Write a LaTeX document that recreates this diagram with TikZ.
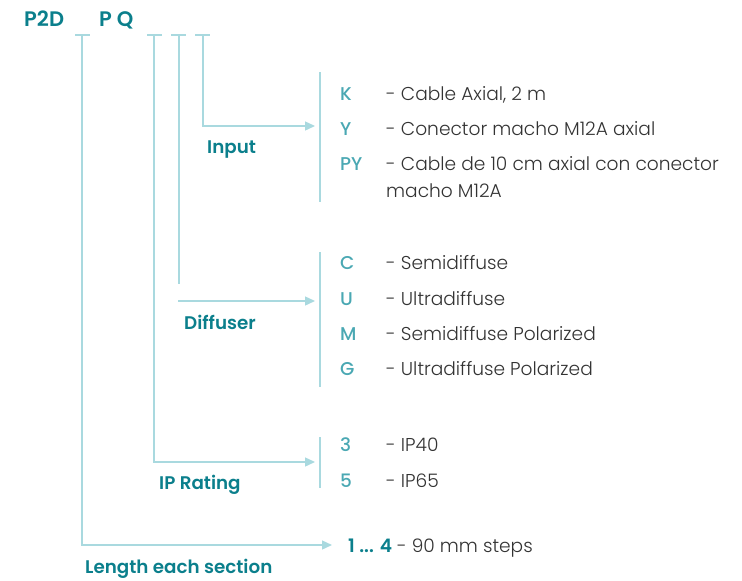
\documentclass[tikz,border=0pt]{standalone}
\usepackage{fontspec}
\setmainfont{Poppins}
\newfontfamily\lightf{Poppins Light}
\newfontfamily\medf{Poppins Medium}
\newfontfamily\semif{Poppins SemiBold}
\usetikzlibrary{arrows.meta}
\definecolor{dteal}{HTML}{0B7F8C}
\definecolor{lteal}{HTML}{4AA8B3}
\definecolor{lblue}{HTML}{A9D9DF}
\definecolor{tgray}{HTML}{333333}
\tikzset{
  guide/.style={draw=lblue, line width=1.4pt},
  arr/.style={guide, -{Triangle[length=10pt,width=9pt]}},
  title/.style={anchor=base west, inner sep=0pt, text=dteal, font=\fontsize{21}{24}\selectfont\semif},
  label/.style={anchor=base west, inner sep=0pt, text=dteal, font=\fontsize{18.3}{22}\selectfont\semif},
  code/.style={anchor=base west, inner sep=0pt, text=lteal, font=\fontsize{18.5}{22}\selectfont\medf},
  desc/.style={anchor=base west, inner sep=0pt, text=tgray, font=\fontsize{18.6}{22}\selectfont\lightf},
}
\begin{document}
\begin{tikzpicture}[x=1pt,y=-1pt]
\useasboundingbox (0,0) rectangle (742,581);
% titles
\node[title] (p2d) at (24,26) {P2D};
\node[title] (pq) at (99,26) {P Q};
% ticks
\coordinate (t1a) at (75,35); \coordinate (t1b) at (90,35); \coordinate (t1) at (82,35);
\coordinate (t2a) at (147,35); \coordinate (t2b) at (162,35); \coordinate (t2) at (154,35);
\coordinate (t3a) at (171,35); \coordinate (t3b) at (186,35); \coordinate (t3) at (179,35);
\coordinate (t4a) at (195,35); \coordinate (t4b) at (210,35); \coordinate (t4) at (203,35);
\draw[guide] (t1a) -- (t1b); \draw[guide] (t2a) -- (t2b);
\draw[guide] (t3a) -- (t3b); \draw[guide] (t4a) -- (t4b);
% Input
\coordinate (inTip) at (315,126);
\draw[arr] (t4) |- (inTip);
\node[label] (input) at (207,153) {Input};
\coordinate (b1t) at (320,72); \coordinate (b1b) at (320,202);
\draw[guide] (b1t) -- (b1b);
\node[code] (k) at (340,100) {K};
\node[desc] (kd) at (386,100) {- Cable Axial, 2 m};
\node[code] (y) at (340,135) {Y};
\node[desc] (yd) at (386,135) {- Conector macho M12A axial};
\node[code] (py) at (340,170) {PY};
\node[desc] (pyd) at (386,170) {- Cable de 10 cm axial con conector};
\node[desc] (pyd2) at (386,197) {macho M12A};
% Diffuser
\coordinate (dEnd) at (179,284);
\draw[guide] (t3) -- (dEnd);
\coordinate (dStart) at (178,301); \coordinate (dTip) at (315,301);
\draw[arr] (dStart) -- (dTip);
\node[label] (diff) at (184,329) {Diffuser};
\coordinate (b2t) at (320,252); \coordinate (b2b) at (320,387);
\draw[guide] (b2t) -- (b2b);
\node[code] (c) at (340,269) {C};
\node[desc] (cd) at (386,269) {- Semidiffuse};
\node[code] (u) at (340,305) {U};
\node[desc] (ud) at (386,305) {- Ultradiffuse};
\node[code] (m) at (340,340) {M};
\node[desc] (md) at (386,340) {- Semidiffuse Polarized};
\node[code] (g) at (340,375) {G};
\node[desc] (gd) at (386,375) {- Ultradiffuse Polarized};
% IP Rating
\coordinate (ipTip) at (315,462);
\draw[arr] (t2) |- (ipTip);
\node[label] (ip) at (159,489) {IP Rating};
\coordinate (b3t) at (320,437); \coordinate (b3b) at (320,488);
\draw[guide] (b3t) -- (b3b);
\node[code] (n3) at (340,451) {3};
\node[desc] (n3d) at (386,451) {- IP40};
\node[code] (n5) at (340,487) {5};
\node[desc] (n5d) at (386,487) {- IP65};
% Length
\coordinate (lTip) at (332,545);
\draw[arr] (t1) |- (lTip);
\node[label] (len) at (85,573) {Length each section};
\node[anchor=base west, inner sep=0pt, font=\fontsize{18.6}{22}\selectfont] (steps) at (348,552) {{\color{dteal}\semif 1 ... 4}\ {\color{tgray}\lightf - 90 mm steps}};
\end{tikzpicture}
\end{document}
